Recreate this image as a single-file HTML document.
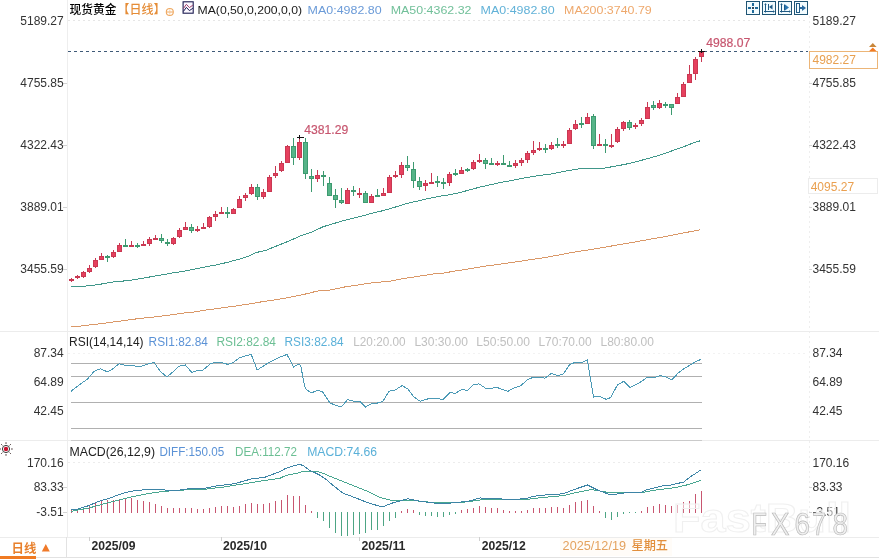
<!DOCTYPE html>
<html><head><meta charset="utf-8"><title>现货黄金 日线</title>
<style>
html,body{margin:0;padding:0;background:#fff;}
body{width:879px;height:559px;overflow:hidden;position:relative;}
svg{position:absolute;left:0;top:0;}
svg text{font-family:"Liberation Sans", "Noto Sans CJK SC", sans-serif;}
</style></head>
<body>
<svg width="879" height="559" viewBox="0 0 879 559">
<rect width="879" height="559" fill="#fff"/>
<rect x="560" y="538" width="112" height="18" fill="#fffcf8"/>
<g shape-rendering="crispEdges">
<rect x="67" y="0" width="1" height="537" fill="#eeeeee"/>
<line x1="809.5" y1="16" x2="809.5" y2="537" stroke="#eeeeee" stroke-dasharray="2,3"/>
<line x1="68" y1="20.5" x2="808" y2="20.5" stroke="#e6e6e6" stroke-dasharray="2,3"/>
<rect x="0" y="331" width="879" height="1" fill="#ececec"/>
<rect x="0" y="440" width="879" height="1" fill="#ececec"/>
<rect x="0" y="537" width="879" height="1" fill="#ececec"/>
<rect x="0" y="557" width="879" height="1" fill="#e2e2e2"/>
<rect x="66" y="537" width="1" height="20" fill="#e2e2e2"/>
<line x1="68" y1="353.5" x2="808" y2="353.5" stroke="#f2f2f2" stroke-dasharray="2,3"/>
<line x1="68" y1="462.5" x2="808" y2="462.5" stroke="#ececec" stroke-dasharray="2,3"/>
<rect x="71" y="363" width="631" height="1" fill="#b0b0b0"/>
<rect x="71" y="376" width="631" height="1" fill="#b0b0b0"/>
<rect x="71" y="402" width="631" height="1" fill="#b0b0b0"/>
<rect x="71" y="428" width="631" height="1" fill="#b0b0b0"/>
<rect x="71" y="440" width="631" height="1" fill="#cacaca"/>
<rect x="63" y="83" width="4" height="1" fill="#d4d4d4"/>
<rect x="809" y="83" width="3" height="1" fill="#d4d4d4"/>
<rect x="63" y="145" width="4" height="1" fill="#d4d4d4"/>
<rect x="809" y="145" width="3" height="1" fill="#d4d4d4"/>
<rect x="63" y="207" width="4" height="1" fill="#d4d4d4"/>
<rect x="809" y="207" width="3" height="1" fill="#d4d4d4"/>
<rect x="63" y="269" width="4" height="1" fill="#d4d4d4"/>
<rect x="809" y="269" width="3" height="1" fill="#d4d4d4"/>
<rect x="63" y="487" width="4" height="1" fill="#d4d4d4"/>
<rect x="809" y="487" width="3" height="1" fill="#d4d4d4"/>
<rect x="63" y="512" width="4" height="1" fill="#d4d4d4"/>
<rect x="809" y="512" width="3" height="1" fill="#d4d4d4"/>
<rect x="89" y="537" width="1" height="4" fill="#cfcfcf"/>
<rect x="221" y="537" width="1" height="4" fill="#cfcfcf"/>
<rect x="359" y="537" width="1" height="4" fill="#cfcfcf"/>
<rect x="479" y="537" width="1" height="4" fill="#cfcfcf"/>
</g>
<line x1="68" y1="51.5" x2="808" y2="51.5" stroke="#3f5a78" stroke-width="1" stroke-dasharray="3,3" shape-rendering="crispEdges"/>
<polyline points="71.2,326.4 80.0,326.1 95.6,324.3 110.4,322.4 125.2,320.4 140.0,318.4 154.8,316.9 169.6,315.0 184.3,313.0 190.0,312.6 204.8,310.2 219.6,308.2 234.4,306.2 249.2,304.0 264.0,301.4 278.8,299.3 293.5,296.6 308.3,293.4 317.0,291.1 329.8,290.0 344.6,287.0 359.4,284.8 374.2,282.5 389.0,281.4 403.8,278.4 418.6,276.3 433.3,274.0 442.0,273.3 454.8,271.1 469.6,268.8 484.4,266.2 499.2,264.3 514.0,262.2 528.8,259.9 543.6,257.8 558.3,255.1 567.0,253.4 581.5,251.0 598.0,248.3 614.5,245.5 631.0,242.7 647.5,239.7 664.0,236.8 680.5,233.5 700.3,229.8" fill="none" stroke="#da9868" stroke-width="1" shape-rendering="crispEdges"/>
<polyline points="71.1,286.5 85.3,286.4 86.5,285.6 97.9,284.8 104.7,283.3 116.0,281.6 127.4,280.7 136.5,279.3 147.9,277.3 157.0,275.7 166.0,274.2 171.4,273.1 182.8,271.4 194.1,269.1 205.5,266.9 216.9,264.8 228.3,262.1 239.6,259.1 248.7,256.0 256.0,252.6 266.4,250.1 277.8,245.5 289.1,241.0 300.5,235.8 311.9,231.9 323.3,226.7 334.6,223.3 346.0,219.9 352.0,218.6 361.4,216.2 372.8,213.0 384.1,210.4 395.5,207.0 406.9,203.4 418.3,200.9 429.6,198.2 441.0,196.0 447.0,195.2 456.4,193.4 467.8,190.4 479.1,187.3 490.5,184.7 501.9,182.2 513.3,180.2 524.6,177.9 536.0,176.0 542.0,175.2 551.4,173.9 562.8,171.6 574.1,169.7 579.8,168.8 600.3,168.8 608.3,167.4 619.6,165.4 630.5,163.2 639.1,160.9 648.2,158.5 657.3,155.9 666.4,152.8 675.5,149.6 684.6,146.4 693.7,142.7 700.5,140.7" fill="none" stroke="#40978a" stroke-width="1" shape-rendering="crispEdges"/>
<g shape-rendering="crispEdges">
<rect x="71" y="278" width="1" height="4" fill="#c93852"/>
<rect x="69" y="279" width="5" height="2" fill="#c93852"/>
<rect x="77" y="275" width="1" height="4" fill="#c93852"/>
<rect x="75" y="276" width="5" height="2" fill="#c93852"/>
<rect x="83" y="271" width="1" height="7" fill="#c93852"/>
<rect x="81" y="272" width="5" height="5" fill="#c93852"/>
<rect x="82" y="273" width="3" height="3" fill="#e6405e"/>
<rect x="89" y="265" width="1" height="8" fill="#c93852"/>
<rect x="87" y="268" width="5" height="4" fill="#c93852"/>
<rect x="88" y="269" width="3" height="2" fill="#e6405e"/>
<rect x="95" y="258" width="1" height="10" fill="#c93852"/>
<rect x="93" y="260" width="5" height="7" fill="#c93852"/>
<rect x="94" y="261" width="3" height="5" fill="#e6405e"/>
<rect x="101" y="253" width="1" height="7" fill="#c93852"/>
<rect x="99" y="256" width="5" height="4" fill="#c93852"/>
<rect x="100" y="257" width="3" height="2" fill="#e6405e"/>
<rect x="107" y="255" width="1" height="7" fill="#3d9a70"/>
<rect x="105" y="256" width="5" height="2" fill="#3d9a70"/>
<rect x="113" y="250" width="1" height="8" fill="#c93852"/>
<rect x="111" y="252" width="5" height="5" fill="#c93852"/>
<rect x="112" y="253" width="3" height="3" fill="#e6405e"/>
<rect x="119" y="243" width="1" height="9" fill="#c93852"/>
<rect x="117" y="245" width="5" height="7" fill="#c93852"/>
<rect x="118" y="246" width="3" height="5" fill="#e6405e"/>
<rect x="125" y="239" width="1" height="7" fill="#3d9a70"/>
<rect x="123" y="245" width="5" height="2" fill="#3d9a70"/>
<rect x="131" y="241" width="1" height="5" fill="#c93852"/>
<rect x="129" y="245" width="5" height="2" fill="#c93852"/>
<rect x="137" y="243" width="1" height="5" fill="#3d9a70"/>
<rect x="135" y="245" width="5" height="2" fill="#3d9a70"/>
<rect x="143" y="241" width="1" height="5" fill="#c93852"/>
<rect x="141" y="244" width="5" height="2" fill="#c93852"/>
<rect x="149" y="237" width="1" height="9" fill="#c93852"/>
<rect x="147" y="239" width="5" height="5" fill="#c93852"/>
<rect x="148" y="240" width="3" height="3" fill="#e6405e"/>
<rect x="155" y="235" width="1" height="4" fill="#c93852"/>
<rect x="153" y="238" width="5" height="2" fill="#c93852"/>
<rect x="161" y="234" width="1" height="9" fill="#3d9a70"/>
<rect x="159" y="238" width="5" height="3" fill="#3d9a70"/>
<rect x="160" y="239" width="3" height="1" fill="#56b488"/>
<rect x="167" y="239" width="1" height="7" fill="#3d9a70"/>
<rect x="165" y="242" width="5" height="2" fill="#3d9a70"/>
<rect x="173" y="237" width="1" height="8" fill="#c93852"/>
<rect x="171" y="238" width="5" height="6" fill="#c93852"/>
<rect x="172" y="239" width="3" height="4" fill="#e6405e"/>
<rect x="179" y="228" width="1" height="10" fill="#c93852"/>
<rect x="177" y="230" width="5" height="7" fill="#c93852"/>
<rect x="178" y="231" width="3" height="5" fill="#e6405e"/>
<rect x="185" y="222" width="1" height="8" fill="#c93852"/>
<rect x="183" y="227" width="5" height="3" fill="#c93852"/>
<rect x="184" y="228" width="3" height="1" fill="#e6405e"/>
<rect x="191" y="224" width="1" height="9" fill="#3d9a70"/>
<rect x="189" y="227" width="5" height="4" fill="#3d9a70"/>
<rect x="190" y="228" width="3" height="2" fill="#56b488"/>
<rect x="197" y="226" width="1" height="6" fill="#c93852"/>
<rect x="195" y="229" width="5" height="2" fill="#c93852"/>
<rect x="203" y="223" width="1" height="6" fill="#c93852"/>
<rect x="201" y="227" width="5" height="2" fill="#c93852"/>
<rect x="209" y="216" width="1" height="12" fill="#c93852"/>
<rect x="207" y="217" width="5" height="10" fill="#c93852"/>
<rect x="208" y="218" width="3" height="8" fill="#e6405e"/>
<rect x="215" y="211" width="1" height="10" fill="#c93852"/>
<rect x="213" y="214" width="5" height="3" fill="#c93852"/>
<rect x="214" y="215" width="3" height="1" fill="#e6405e"/>
<rect x="221" y="207" width="1" height="6" fill="#c93852"/>
<rect x="219" y="212" width="5" height="2" fill="#c93852"/>
<rect x="227" y="207" width="1" height="11" fill="#3d9a70"/>
<rect x="225" y="212" width="5" height="2" fill="#3d9a70"/>
<rect x="233" y="208" width="1" height="6" fill="#c93852"/>
<rect x="231" y="209" width="5" height="5" fill="#c93852"/>
<rect x="232" y="210" width="3" height="3" fill="#e6405e"/>
<rect x="239" y="196" width="1" height="12" fill="#c93852"/>
<rect x="237" y="199" width="5" height="9" fill="#c93852"/>
<rect x="238" y="200" width="3" height="7" fill="#e6405e"/>
<rect x="245" y="193" width="1" height="8" fill="#c93852"/>
<rect x="243" y="195" width="5" height="3" fill="#c93852"/>
<rect x="244" y="196" width="3" height="1" fill="#e6405e"/>
<rect x="251" y="184" width="1" height="11" fill="#c93852"/>
<rect x="249" y="187" width="5" height="7" fill="#c93852"/>
<rect x="250" y="188" width="3" height="5" fill="#e6405e"/>
<rect x="257" y="184" width="1" height="16" fill="#3d9a70"/>
<rect x="255" y="187" width="5" height="10" fill="#3d9a70"/>
<rect x="256" y="188" width="3" height="8" fill="#56b488"/>
<rect x="263" y="189" width="1" height="10" fill="#c93852"/>
<rect x="261" y="192" width="5" height="5" fill="#c93852"/>
<rect x="262" y="193" width="3" height="3" fill="#e6405e"/>
<rect x="269" y="175" width="1" height="17" fill="#c93852"/>
<rect x="267" y="177" width="5" height="15" fill="#c93852"/>
<rect x="268" y="178" width="3" height="13" fill="#e6405e"/>
<rect x="275" y="166" width="1" height="12" fill="#c93852"/>
<rect x="273" y="173" width="5" height="3" fill="#c93852"/>
<rect x="274" y="174" width="3" height="1" fill="#e6405e"/>
<rect x="281" y="161" width="1" height="11" fill="#c93852"/>
<rect x="279" y="163" width="5" height="8" fill="#c93852"/>
<rect x="280" y="164" width="3" height="6" fill="#e6405e"/>
<rect x="287" y="145" width="1" height="18" fill="#c93852"/>
<rect x="285" y="146" width="5" height="17" fill="#c93852"/>
<rect x="286" y="147" width="3" height="15" fill="#e6405e"/>
<rect x="293" y="138" width="1" height="27" fill="#3d9a70"/>
<rect x="291" y="146" width="5" height="12" fill="#3d9a70"/>
<rect x="292" y="147" width="3" height="10" fill="#56b488"/>
<rect x="299" y="136" width="1" height="24" fill="#c93852"/>
<rect x="297" y="142" width="5" height="16" fill="#c93852"/>
<rect x="298" y="143" width="3" height="14" fill="#e6405e"/>
<rect x="305" y="138" width="1" height="41" fill="#3d9a70"/>
<rect x="303" y="142" width="5" height="32" fill="#3d9a70"/>
<rect x="304" y="143" width="3" height="30" fill="#56b488"/>
<rect x="311" y="169" width="1" height="23" fill="#3d9a70"/>
<rect x="309" y="176" width="5" height="3" fill="#3d9a70"/>
<rect x="310" y="177" width="3" height="1" fill="#56b488"/>
<rect x="317" y="170" width="1" height="12" fill="#c93852"/>
<rect x="315" y="175" width="5" height="4" fill="#c93852"/>
<rect x="316" y="176" width="3" height="2" fill="#e6405e"/>
<rect x="323" y="171" width="1" height="15" fill="#3d9a70"/>
<rect x="321" y="175" width="5" height="2" fill="#3d9a70"/>
<rect x="329" y="177" width="1" height="19" fill="#3d9a70"/>
<rect x="327" y="183" width="5" height="13" fill="#3d9a70"/>
<rect x="328" y="184" width="3" height="11" fill="#56b488"/>
<rect x="335" y="189" width="1" height="19" fill="#3d9a70"/>
<rect x="333" y="195" width="5" height="5" fill="#3d9a70"/>
<rect x="334" y="196" width="3" height="3" fill="#56b488"/>
<rect x="341" y="188" width="1" height="16" fill="#3d9a70"/>
<rect x="339" y="200" width="5" height="3" fill="#3d9a70"/>
<rect x="340" y="201" width="3" height="1" fill="#56b488"/>
<rect x="347" y="188" width="1" height="16" fill="#c93852"/>
<rect x="345" y="190" width="5" height="14" fill="#c93852"/>
<rect x="346" y="191" width="3" height="12" fill="#e6405e"/>
<rect x="353" y="186" width="1" height="10" fill="#3d9a70"/>
<rect x="351" y="190" width="5" height="2" fill="#3d9a70"/>
<rect x="359" y="188" width="1" height="10" fill="#c93852"/>
<rect x="357" y="193" width="5" height="2" fill="#c93852"/>
<rect x="365" y="191" width="1" height="12" fill="#3d9a70"/>
<rect x="363" y="193" width="5" height="10" fill="#3d9a70"/>
<rect x="364" y="194" width="3" height="8" fill="#56b488"/>
<rect x="371" y="194" width="1" height="9" fill="#c93852"/>
<rect x="369" y="196" width="5" height="7" fill="#c93852"/>
<rect x="370" y="197" width="3" height="5" fill="#e6405e"/>
<rect x="377" y="189" width="1" height="7" fill="#3d9a70"/>
<rect x="375" y="195" width="5" height="2" fill="#3d9a70"/>
<rect x="383" y="188" width="1" height="8" fill="#c93852"/>
<rect x="381" y="193" width="5" height="3" fill="#c93852"/>
<rect x="382" y="194" width="3" height="1" fill="#e6405e"/>
<rect x="389" y="175" width="1" height="18" fill="#c93852"/>
<rect x="387" y="177" width="5" height="16" fill="#c93852"/>
<rect x="388" y="178" width="3" height="14" fill="#e6405e"/>
<rect x="395" y="171" width="1" height="7" fill="#c93852"/>
<rect x="393" y="175" width="5" height="2" fill="#c93852"/>
<rect x="401" y="162" width="1" height="16" fill="#c93852"/>
<rect x="399" y="165" width="5" height="10" fill="#c93852"/>
<rect x="400" y="166" width="3" height="8" fill="#e6405e"/>
<rect x="407" y="156" width="1" height="15" fill="#3d9a70"/>
<rect x="405" y="165" width="5" height="3" fill="#3d9a70"/>
<rect x="406" y="166" width="3" height="1" fill="#56b488"/>
<rect x="413" y="162" width="1" height="26" fill="#3d9a70"/>
<rect x="411" y="169" width="5" height="12" fill="#3d9a70"/>
<rect x="412" y="170" width="3" height="10" fill="#56b488"/>
<rect x="419" y="177" width="1" height="13" fill="#3d9a70"/>
<rect x="417" y="181" width="5" height="6" fill="#3d9a70"/>
<rect x="418" y="182" width="3" height="4" fill="#56b488"/>
<rect x="425" y="180" width="1" height="11" fill="#c93852"/>
<rect x="423" y="183" width="5" height="3" fill="#c93852"/>
<rect x="424" y="184" width="3" height="1" fill="#e6405e"/>
<rect x="431" y="173" width="1" height="11" fill="#c93852"/>
<rect x="429" y="182" width="5" height="2" fill="#c93852"/>
<rect x="437" y="176" width="1" height="11" fill="#3d9a70"/>
<rect x="435" y="181" width="5" height="2" fill="#3d9a70"/>
<rect x="443" y="178" width="1" height="11" fill="#3d9a70"/>
<rect x="441" y="182" width="5" height="2" fill="#3d9a70"/>
<rect x="449" y="172" width="1" height="14" fill="#c93852"/>
<rect x="447" y="174" width="5" height="9" fill="#c93852"/>
<rect x="448" y="175" width="3" height="7" fill="#e6405e"/>
<rect x="455" y="169" width="1" height="7" fill="#3d9a70"/>
<rect x="453" y="173" width="5" height="2" fill="#3d9a70"/>
<rect x="461" y="167" width="1" height="7" fill="#c93852"/>
<rect x="459" y="170" width="5" height="4" fill="#c93852"/>
<rect x="460" y="171" width="3" height="2" fill="#e6405e"/>
<rect x="467" y="168" width="1" height="4" fill="#3d9a70"/>
<rect x="465" y="169" width="5" height="2" fill="#3d9a70"/>
<rect x="473" y="160" width="1" height="10" fill="#c93852"/>
<rect x="471" y="162" width="5" height="7" fill="#c93852"/>
<rect x="472" y="163" width="3" height="5" fill="#e6405e"/>
<rect x="479" y="154" width="1" height="9" fill="#c93852"/>
<rect x="477" y="160" width="5" height="2" fill="#c93852"/>
<rect x="485" y="158" width="1" height="11" fill="#3d9a70"/>
<rect x="483" y="160" width="5" height="4" fill="#3d9a70"/>
<rect x="484" y="161" width="3" height="2" fill="#56b488"/>
<rect x="491" y="158" width="1" height="6" fill="#3d9a70"/>
<rect x="489" y="163" width="5" height="2" fill="#3d9a70"/>
<rect x="497" y="161" width="1" height="5" fill="#c93852"/>
<rect x="495" y="163" width="5" height="2" fill="#c93852"/>
<rect x="503" y="155" width="1" height="9" fill="#3d9a70"/>
<rect x="501" y="163" width="5" height="2" fill="#3d9a70"/>
<rect x="509" y="161" width="1" height="6" fill="#3d9a70"/>
<rect x="507" y="165" width="5" height="2" fill="#3d9a70"/>
<rect x="515" y="160" width="1" height="8" fill="#c93852"/>
<rect x="513" y="163" width="5" height="3" fill="#c93852"/>
<rect x="514" y="164" width="3" height="1" fill="#e6405e"/>
<rect x="521" y="158" width="1" height="8" fill="#c93852"/>
<rect x="519" y="160" width="5" height="3" fill="#c93852"/>
<rect x="520" y="161" width="3" height="1" fill="#e6405e"/>
<rect x="527" y="151" width="1" height="12" fill="#c93852"/>
<rect x="525" y="153" width="5" height="7" fill="#c93852"/>
<rect x="526" y="154" width="3" height="5" fill="#e6405e"/>
<rect x="533" y="141" width="1" height="14" fill="#c93852"/>
<rect x="531" y="150" width="5" height="3" fill="#c93852"/>
<rect x="532" y="151" width="3" height="1" fill="#e6405e"/>
<rect x="539" y="142" width="1" height="9" fill="#c93852"/>
<rect x="537" y="148" width="5" height="2" fill="#c93852"/>
<rect x="545" y="144" width="1" height="9" fill="#3d9a70"/>
<rect x="543" y="148" width="5" height="2" fill="#3d9a70"/>
<rect x="551" y="142" width="1" height="8" fill="#c93852"/>
<rect x="549" y="145" width="5" height="4" fill="#c93852"/>
<rect x="550" y="146" width="3" height="2" fill="#e6405e"/>
<rect x="557" y="138" width="1" height="10" fill="#3d9a70"/>
<rect x="555" y="144" width="5" height="2" fill="#3d9a70"/>
<rect x="563" y="141" width="1" height="7" fill="#c93852"/>
<rect x="561" y="144" width="5" height="2" fill="#c93852"/>
<rect x="569" y="128" width="1" height="16" fill="#c93852"/>
<rect x="567" y="130" width="5" height="14" fill="#c93852"/>
<rect x="568" y="131" width="3" height="12" fill="#e6405e"/>
<rect x="575" y="120" width="1" height="10" fill="#c93852"/>
<rect x="573" y="124" width="5" height="5" fill="#c93852"/>
<rect x="574" y="125" width="3" height="3" fill="#e6405e"/>
<rect x="581" y="117" width="1" height="11" fill="#3d9a70"/>
<rect x="579" y="123" width="5" height="2" fill="#3d9a70"/>
<rect x="587" y="113" width="1" height="11" fill="#c93852"/>
<rect x="585" y="117" width="5" height="7" fill="#c93852"/>
<rect x="586" y="118" width="3" height="5" fill="#e6405e"/>
<rect x="593" y="114" width="1" height="35" fill="#3d9a70"/>
<rect x="591" y="116" width="5" height="30" fill="#3d9a70"/>
<rect x="592" y="117" width="3" height="28" fill="#56b488"/>
<rect x="599" y="134" width="1" height="12" fill="#c93852"/>
<rect x="597" y="144" width="5" height="2" fill="#c93852"/>
<rect x="605" y="139" width="1" height="14" fill="#3d9a70"/>
<rect x="603" y="144" width="5" height="2" fill="#3d9a70"/>
<rect x="611" y="134" width="1" height="14" fill="#c93852"/>
<rect x="609" y="145" width="5" height="2" fill="#c93852"/>
<rect x="617" y="127" width="1" height="16" fill="#c93852"/>
<rect x="615" y="129" width="5" height="13" fill="#c93852"/>
<rect x="616" y="130" width="3" height="11" fill="#e6405e"/>
<rect x="623" y="121" width="1" height="10" fill="#c93852"/>
<rect x="621" y="122" width="5" height="7" fill="#c93852"/>
<rect x="622" y="123" width="3" height="5" fill="#e6405e"/>
<rect x="629" y="120" width="1" height="10" fill="#3d9a70"/>
<rect x="627" y="122" width="5" height="6" fill="#3d9a70"/>
<rect x="628" y="123" width="3" height="4" fill="#56b488"/>
<rect x="635" y="123" width="1" height="6" fill="#c93852"/>
<rect x="633" y="125" width="5" height="2" fill="#c93852"/>
<rect x="641" y="118" width="1" height="8" fill="#c93852"/>
<rect x="639" y="120" width="5" height="4" fill="#c93852"/>
<rect x="640" y="121" width="3" height="2" fill="#e6405e"/>
<rect x="647" y="102" width="1" height="17" fill="#c93852"/>
<rect x="645" y="107" width="5" height="12" fill="#c93852"/>
<rect x="646" y="108" width="3" height="10" fill="#e6405e"/>
<rect x="653" y="101" width="1" height="9" fill="#3d9a70"/>
<rect x="651" y="105" width="5" height="3" fill="#3d9a70"/>
<rect x="652" y="106" width="3" height="1" fill="#56b488"/>
<rect x="659" y="100" width="1" height="9" fill="#c93852"/>
<rect x="657" y="103" width="5" height="5" fill="#c93852"/>
<rect x="658" y="104" width="3" height="3" fill="#e6405e"/>
<rect x="665" y="102" width="1" height="6" fill="#3d9a70"/>
<rect x="663" y="104" width="5" height="2" fill="#3d9a70"/>
<rect x="671" y="104" width="1" height="11" fill="#3d9a70"/>
<rect x="669" y="104" width="5" height="4" fill="#3d9a70"/>
<rect x="670" y="105" width="3" height="2" fill="#56b488"/>
<rect x="677" y="93" width="1" height="11" fill="#c93852"/>
<rect x="675" y="97" width="5" height="7" fill="#c93852"/>
<rect x="676" y="98" width="3" height="5" fill="#e6405e"/>
<rect x="683" y="82" width="1" height="15" fill="#c93852"/>
<rect x="681" y="84" width="5" height="13" fill="#c93852"/>
<rect x="682" y="85" width="3" height="11" fill="#e6405e"/>
<rect x="689" y="65" width="1" height="18" fill="#c93852"/>
<rect x="687" y="74" width="5" height="9" fill="#c93852"/>
<rect x="688" y="75" width="3" height="7" fill="#e6405e"/>
<rect x="695" y="57" width="1" height="23" fill="#c93852"/>
<rect x="693" y="59" width="5" height="15" fill="#c93852"/>
<rect x="694" y="60" width="3" height="13" fill="#e6405e"/>
<rect x="701" y="50" width="1" height="12" fill="#c93852"/>
<rect x="699" y="52" width="5" height="5" fill="#c93852"/>
<rect x="700" y="53" width="3" height="3" fill="#e6405e"/>
</g>
<g stroke="#111" stroke-width="1" shape-rendering="crispEdges"><line x1="297" y1="137.5" x2="304" y2="137.5"/><line x1="299.5" y1="135" x2="299.5" y2="139"/><line x1="698" y1="51.5" x2="705" y2="51.5"/><line x1="701.5" y1="49" x2="701.5" y2="53"/></g>
<polyline points="71.0,391.3 79.0,385.0 87.8,378.8 94.0,371.3 100.3,368.8 107.8,372.0 112.8,368.8 119.0,363.8 124.0,365.0 129.0,365.5 132.8,365.0 137.8,367.0 144.0,365.5 149.0,363.8 154.0,362.5 160.3,371.3 167.0,377.0 172.8,372.0 179.0,366.3 185.4,365.0 191.7,372.5 198.0,370.5 203.0,370.0 210.4,363.8 215.4,362.5 221.7,362.5 228.0,364.5 233.0,362.5 239.2,358.0 244.2,356.3 251.2,354.3 257.2,370.0 266.8,363.8 274.3,360.0 280.0,357.0 287.0,354.5 293.6,367.0 299.0,363.9 300.7,365.7 304.8,386.7 306.1,389.4 311.5,392.8 316.8,390.7 322.2,391.3 330.0,403.0 335.0,405.0 341.3,407.0 347.6,399.6 353.8,401.3 359.6,401.3 365.6,407.0 372.6,403.0 377.6,403.0 383.0,401.3 388.9,391.3 395.1,390.0 402.2,385.6 407.7,388.8 414.0,397.0 420.2,401.3 425.2,399.6 430.2,398.3 436.4,398.3 442.7,399.6 449.7,392.6 455.2,393.3 462.2,389.3 467.2,390.6 473.2,385.0 479.0,383.8 485.8,388.3 492.8,388.0 496.0,387.0 502.3,389.6 508.0,391.3 514.0,388.0 520.5,385.8 527.3,380.0 533.5,377.0 539.8,377.0 544.8,378.3 551.6,373.3 557.3,375.5 563.0,374.3 569.8,364.5 574.8,362.5 581.1,363.0 587.4,360.0 593.6,397.0 599.1,396.3 606.1,399.3 610.6,397.6 617.4,385.0 623.7,381.3 629.9,387.6 636.2,384.6 641.7,381.3 647.4,377.0 653.2,378.0 660.0,375.5 666.2,377.0 671.7,380.0 678.7,372.5 685.0,368.0 691.2,364.5 696.3,361.3 700.8,359.5" fill="none" stroke="#4c9ab6" stroke-width="1" shape-rendering="crispEdges"/>
<g shape-rendering="crispEdges">
<rect x="71" y="510" width="1" height="3" fill="#c85670"/>
<rect x="77" y="509" width="1" height="4" fill="#c85670"/>
<rect x="83" y="507" width="1" height="6" fill="#c85670"/>
<rect x="89" y="506" width="1" height="7" fill="#c85670"/>
<rect x="95" y="503" width="1" height="10" fill="#c85670"/>
<rect x="101" y="501" width="1" height="12" fill="#c85670"/>
<rect x="107" y="500" width="1" height="13" fill="#c85670"/>
<rect x="113" y="500" width="1" height="13" fill="#c85670"/>
<rect x="119" y="499" width="1" height="14" fill="#c85670"/>
<rect x="125" y="498" width="1" height="15" fill="#c85670"/>
<rect x="131" y="498" width="1" height="15" fill="#c85670"/>
<rect x="137" y="500" width="1" height="13" fill="#c85670"/>
<rect x="143" y="501" width="1" height="12" fill="#c85670"/>
<rect x="149" y="502" width="1" height="11" fill="#c85670"/>
<rect x="155" y="504" width="1" height="9" fill="#c85670"/>
<rect x="161" y="506" width="1" height="7" fill="#c85670"/>
<rect x="167" y="508" width="1" height="5" fill="#c85670"/>
<rect x="173" y="508" width="1" height="5" fill="#c85670"/>
<rect x="179" y="508" width="1" height="5" fill="#c85670"/>
<rect x="185" y="508" width="1" height="5" fill="#c85670"/>
<rect x="191" y="508" width="1" height="5" fill="#c85670"/>
<rect x="197" y="509" width="1" height="4" fill="#c85670"/>
<rect x="203" y="509" width="1" height="4" fill="#c85670"/>
<rect x="209" y="508" width="1" height="5" fill="#c85670"/>
<rect x="215" y="507" width="1" height="6" fill="#c85670"/>
<rect x="221" y="506" width="1" height="7" fill="#c85670"/>
<rect x="227" y="506" width="1" height="7" fill="#c85670"/>
<rect x="233" y="507" width="1" height="6" fill="#c85670"/>
<rect x="239" y="506" width="1" height="7" fill="#c85670"/>
<rect x="245" y="504" width="1" height="9" fill="#c85670"/>
<rect x="251" y="503" width="1" height="10" fill="#c85670"/>
<rect x="257" y="504" width="1" height="9" fill="#c85670"/>
<rect x="263" y="504" width="1" height="9" fill="#c85670"/>
<rect x="269" y="503" width="1" height="10" fill="#c85670"/>
<rect x="275" y="501" width="1" height="12" fill="#c85670"/>
<rect x="281" y="500" width="1" height="13" fill="#c85670"/>
<rect x="287" y="495" width="1" height="18" fill="#c85670"/>
<rect x="293" y="496" width="1" height="17" fill="#c85670"/>
<rect x="299" y="496" width="1" height="17" fill="#c85670"/>
<rect x="305" y="505" width="1" height="8" fill="#c85670"/>
<rect x="311" y="511" width="1" height="2" fill="#c85670"/>
<rect x="317" y="512" width="1" height="6" fill="#4da584"/>
<rect x="323" y="512" width="1" height="9" fill="#4da584"/>
<rect x="329" y="512" width="1" height="16" fill="#4da584"/>
<rect x="335" y="512" width="1" height="21" fill="#4da584"/>
<rect x="341" y="512" width="1" height="24" fill="#4da584"/>
<rect x="347" y="512" width="1" height="24" fill="#4da584"/>
<rect x="353" y="512" width="1" height="23" fill="#4da584"/>
<rect x="359" y="512" width="1" height="22" fill="#4da584"/>
<rect x="365" y="512" width="1" height="21" fill="#4da584"/>
<rect x="371" y="512" width="1" height="18" fill="#4da584"/>
<rect x="377" y="512" width="1" height="18" fill="#4da584"/>
<rect x="383" y="512" width="1" height="14" fill="#4da584"/>
<rect x="389" y="512" width="1" height="9" fill="#4da584"/>
<rect x="395" y="512" width="1" height="6" fill="#4da584"/>
<rect x="401" y="511" width="1" height="2" fill="#c85670"/>
<rect x="407" y="509" width="1" height="4" fill="#c85670"/>
<rect x="413" y="510" width="1" height="3" fill="#c85670"/>
<rect x="419" y="512" width="1" height="3" fill="#4da584"/>
<rect x="425" y="512" width="1" height="4" fill="#4da584"/>
<rect x="431" y="512" width="1" height="4" fill="#4da584"/>
<rect x="437" y="512" width="1" height="5" fill="#4da584"/>
<rect x="443" y="512" width="1" height="5" fill="#4da584"/>
<rect x="449" y="512" width="1" height="3" fill="#4da584"/>
<rect x="455" y="512" width="1" height="2" fill="#4da584"/>
<rect x="461" y="510" width="1" height="3" fill="#c85670"/>
<rect x="467" y="509" width="1" height="4" fill="#c85670"/>
<rect x="473" y="508" width="1" height="5" fill="#c85670"/>
<rect x="479" y="506" width="1" height="7" fill="#c85670"/>
<rect x="485" y="507" width="1" height="6" fill="#c85670"/>
<rect x="491" y="508" width="1" height="5" fill="#c85670"/>
<rect x="497" y="508" width="1" height="5" fill="#c85670"/>
<rect x="503" y="510" width="1" height="3" fill="#c85670"/>
<rect x="509" y="511" width="1" height="2" fill="#c85670"/>
<rect x="515" y="511" width="1" height="2" fill="#c85670"/>
<rect x="521" y="511" width="1" height="2" fill="#c85670"/>
<rect x="527" y="510" width="1" height="3" fill="#c85670"/>
<rect x="533" y="508" width="1" height="5" fill="#c85670"/>
<rect x="539" y="508" width="1" height="5" fill="#c85670"/>
<rect x="545" y="508" width="1" height="5" fill="#c85670"/>
<rect x="551" y="507" width="1" height="6" fill="#c85670"/>
<rect x="557" y="507" width="1" height="6" fill="#c85670"/>
<rect x="563" y="508" width="1" height="5" fill="#c85670"/>
<rect x="569" y="505" width="1" height="8" fill="#c85670"/>
<rect x="575" y="502" width="1" height="11" fill="#c85670"/>
<rect x="581" y="501" width="1" height="12" fill="#c85670"/>
<rect x="587" y="500" width="1" height="13" fill="#c85670"/>
<rect x="593" y="506" width="1" height="7" fill="#c85670"/>
<rect x="599" y="511" width="1" height="2" fill="#c85670"/>
<rect x="605" y="512" width="1" height="6" fill="#4da584"/>
<rect x="611" y="512" width="1" height="8" fill="#4da584"/>
<rect x="617" y="512" width="1" height="5" fill="#4da584"/>
<rect x="623" y="512" width="1" height="2" fill="#4da584"/>
<rect x="629" y="512" width="1" height="1" fill="#4da584"/>
<rect x="635" y="512" width="1" height="1" fill="#4da584"/>
<rect x="641" y="511" width="1" height="2" fill="#c85670"/>
<rect x="647" y="507" width="1" height="6" fill="#c85670"/>
<rect x="653" y="506" width="1" height="7" fill="#c85670"/>
<rect x="659" y="504" width="1" height="9" fill="#c85670"/>
<rect x="665" y="505" width="1" height="8" fill="#c85670"/>
<rect x="671" y="506" width="1" height="7" fill="#c85670"/>
<rect x="677" y="505" width="1" height="8" fill="#c85670"/>
<rect x="683" y="502" width="1" height="11" fill="#c85670"/>
<rect x="689" y="501" width="1" height="12" fill="#c85670"/>
<rect x="695" y="494" width="1" height="19" fill="#c85670"/>
<rect x="701" y="491" width="1" height="22" fill="#c85670"/>
</g>
<polyline points="71.0,511.3 89.0,508.0 101.5,504.5 114.0,501.3 129.0,497.5 146.6,493.8 164.0,491.3 184.0,490.0 204.0,489.3 224.0,487.0 244.0,483.8 264.3,480.5 280.0,478.3 285.7,475.5 291.4,474.3 297.0,473.2 302.8,471.5 308.4,471.4 314.1,471.5 318.7,471.8 324.4,473.8 330.0,476.3 342.6,481.3 355.0,486.3 367.6,491.3 380.0,497.6 390.0,500.0 400.0,500.6 410.0,500.0 420.2,501.3 435.2,502.6 450.2,503.0 465.2,502.0 480.3,500.0 496.0,499.6 526.0,499.6 541.0,497.6 563.6,495.6 576.0,492.6 591.1,489.5 606.1,492.0 616.1,493.0 641.2,492.6 656.2,490.0 676.2,487.5 688.7,484.5 700.8,480.5" fill="none" stroke="#48a690" stroke-width="1" shape-rendering="crispEdges"/>
<polyline points="71.0,510.0 79.0,508.8 89.0,505.5 99.0,501.3 110.3,498.0 119.0,494.5 130.3,491.3 146.6,489.5 159.0,489.5 174.0,490.8 189.0,488.8 201.7,488.8 216.7,485.8 234.2,483.8 251.7,478.8 264.3,477.5 280.0,471.5 285.7,468.4 291.4,466.4 299.6,464.2 304.5,466.4 309.6,470.5 314.1,472.3 319.8,475.2 325.5,478.9 332.6,485.0 342.6,493.0 355.0,497.6 367.6,502.6 382.0,507.0 392.6,503.0 407.7,498.8 420.2,501.3 430.2,502.6 442.7,503.8 455.2,502.6 467.7,501.3 480.3,498.0 496.0,498.8 511.0,499.3 526.0,498.8 533.5,496.3 548.6,494.6 563.6,493.8 571.0,490.6 587.4,485.0 598.6,490.6 611.1,495.0 623.7,493.0 641.2,492.6 646.2,490.0 663.7,485.5 671.2,485.0 683.7,482.0 691.2,476.3 700.8,470.0" fill="none" stroke="#3d84a6" stroke-width="1" shape-rendering="crispEdges"/>

<g shape-rendering="crispEdges">
<rect x="746.5" y="1.5" width="13" height="13" fill="#f2fbfe" stroke="#1f5474"/>
<rect x="762.5" y="1.5" width="13" height="13" fill="#f2fbfe" stroke="#1f5474"/>
<rect x="778.5" y="1.5" width="13" height="13" fill="#f2fbfe" stroke="#1f5474"/>
<rect x="794.5" y="1.5" width="13" height="13" fill="#f2fbfe" stroke="#1f5474"/>
<g fill="#1f6a9a">
<rect x="752" y="3" width="2" height="3"/><rect x="752" y="10" width="2" height="3"/>
<rect x="748" y="7" width="3" height="2"/><rect x="755" y="7" width="3" height="2"/>
<rect x="752" y="7" width="2" height="2" fill="#345"/>
</g>
</g>
<g fill="none" stroke="#1f5a84" stroke-width="1">
<path d="M765.5 4 V12.5 M764 11.5 H774 M768.5 4 V10"/>
<path d="M781.5 4 V12.5 M780 11.5 H790 M784.5 4.5 V10.5"/>
<path d="M796.5 3.5 H799.5 V12.5 H796.5 Z" shape-rendering="crispEdges"/>
</g>
<g fill="#1f5a84">
<path d="M764.3 5 L765.5 3 L766.7 5 Z"/><path d="M773 10.3 L775 11.5 L773 12.7 Z"/>
<path d="M772.5 4.5 V9.5 L769 7 Z"/>
<path d="M780.3 5 L781.5 3 L782.7 5 Z"/><path d="M789 10.3 L791 11.5 L789 12.7 Z"/>
<path d="M785 4.5 L789 7.5 L785 10.5 Z" fill="#2a76b0"/>
<rect x="800" y="7" width="3" height="2" fill="#2a6aa0"/>
<path d="M802 5 L806 8 L802 11 Z" fill="#2a6aa0"/>
</g>


<circle cx="169.8" cy="12" r="3.5" fill="none" stroke="#efa860" stroke-width="1.1"/>
<line x1="166.3" y1="12" x2="173.3" y2="12" stroke="#efa860" stroke-width="1"/>
<line x1="169.8" y1="9.3" x2="169.8" y2="14.8" stroke="#f3c898" stroke-width="0.8"/>
<rect x="183.1" y="1.8" width="10.1" height="11.4" fill="#fbf8ff" stroke="#1b1b50" stroke-width="1.1"/>
<polyline points="183.4,8.6 186.4,4.3 189.4,7.6 192.8,5.2" fill="none" stroke="#a0406a" stroke-width="1"/>
<polyline points="183.4,11.4 186.4,7.4 189.4,10.6 192.8,8.3" fill="none" stroke="#1b1b50" stroke-width="1"/>


<g transform="translate(6,449)">
<circle r="3.6" fill="#fff" stroke="#3a3a3a" stroke-width="1"/>
<circle r="2.2" fill="#c8102e"/>
<g stroke="#5a4a4a" stroke-width="1">
<line x1="0" y1="-5" x2="0" y2="-6.8"/><line x1="0" y1="5" x2="0" y2="6.8"/>
<line x1="-5" y1="0" x2="-6.8" y2="0"/><line x1="5" y1="0" x2="6.8" y2="0"/>
<line x1="3.6" y1="3.6" x2="4.9" y2="4.9"/><line x1="-3.6" y1="3.6" x2="-4.9" y2="4.9"/>
<line x1="3.6" y1="-3.6" x2="4.9" y2="-4.9"/><line x1="-3.6" y1="-3.6" x2="-4.9" y2="-4.9"/>
</g></g>


<rect x="809.5" y="51.5" width="68" height="17" fill="#fff" stroke="#ecb577" stroke-width="1" shape-rendering="crispEdges"/>
<path d="M869 47 L872.8 43 L876.6 47 Z" fill="#c8863a"/>
<path d="M869 51.3 L872.8 47.6 L876.6 51.3 Z" fill="#f37a22"/>
<rect x="808.5" y="178.5" width="69" height="15" fill="#fff" stroke="#ececec" stroke-width="1" shape-rendering="crispEdges"/>

<text x="69.5" y="14.2" fill="#000" font-size="12" font-weight="500" text-anchor="start" textLength="47" lengthAdjust="spacingAndGlyphs">现货黄金</text>
<text x="117.5" y="14.2" fill="#e58c36" font-size="12" font-weight="500" text-anchor="start" textLength="48" lengthAdjust="spacingAndGlyphs">【日线】</text>
<text x="197.5" y="13.8" fill="#1a1a1a" font-size="11.6" font-weight="normal" text-anchor="start" textLength="104.5" lengthAdjust="spacingAndGlyphs">MA(0,50,0,200,0,0)</text>
<text x="307.6" y="13.8" fill="#6b9bd8" font-size="11.6" font-weight="normal" text-anchor="start" textLength="74" lengthAdjust="spacingAndGlyphs">MA0:4982.80</text>
<text x="390.7" y="13.8" fill="#72c09a" font-size="11.6" font-weight="normal" text-anchor="start" textLength="80.8" lengthAdjust="spacingAndGlyphs">MA50:4362.32</text>
<text x="480.6" y="13.8" fill="#62b2d8" font-size="11.6" font-weight="normal" text-anchor="start" textLength="74" lengthAdjust="spacingAndGlyphs">MA0:4982.80</text>
<text x="564.1" y="13.8" fill="#eea86c" font-size="11.6" font-weight="normal" text-anchor="start" textLength="87.6" lengthAdjust="spacingAndGlyphs">MA200:3740.79</text>
<text x="63.7" y="24.8" fill="#333" font-size="12" font-weight="normal" text-anchor="end">5189.27</text>
<text x="63.7" y="86.8" fill="#333" font-size="12" font-weight="normal" text-anchor="end">4755.85</text>
<text x="63.7" y="148.7" fill="#333" font-size="12" font-weight="normal" text-anchor="end">4322.43</text>
<text x="63.7" y="210.8" fill="#333" font-size="12" font-weight="normal" text-anchor="end">3889.01</text>
<text x="63.7" y="272.6" fill="#333" font-size="12" font-weight="normal" text-anchor="end">3455.59</text>
<text x="63.7" y="356.5" fill="#333" font-size="12" font-weight="normal" text-anchor="end">87.34</text>
<text x="63.7" y="385.5" fill="#333" font-size="12" font-weight="normal" text-anchor="end">64.89</text>
<text x="63.7" y="414.5" fill="#333" font-size="12" font-weight="normal" text-anchor="end">42.45</text>
<text x="63.7" y="467" fill="#333" font-size="12" font-weight="normal" text-anchor="end">170.16</text>
<text x="63.7" y="490.5" fill="#333" font-size="12" font-weight="normal" text-anchor="end">83.33</text>
<text x="63.7" y="515.5" fill="#333" font-size="12" font-weight="normal" text-anchor="end">-3.51</text>
<text x="812.5" y="24.8" fill="#333" font-size="12" font-weight="normal" text-anchor="start">5189.27</text>
<text x="812.5" y="86.8" fill="#333" font-size="12" font-weight="normal" text-anchor="start">4755.85</text>
<text x="812.5" y="148.7" fill="#333" font-size="12" font-weight="normal" text-anchor="start">4322.43</text>
<text x="812.5" y="210.8" fill="#333" font-size="12" font-weight="normal" text-anchor="start">3889.01</text>
<text x="812.5" y="272.6" fill="#333" font-size="12" font-weight="normal" text-anchor="start">3455.59</text>
<text x="812.5" y="356.5" fill="#333" font-size="12" font-weight="normal" text-anchor="start">87.34</text>
<text x="812.5" y="385.5" fill="#333" font-size="12" font-weight="normal" text-anchor="start">64.89</text>
<text x="812.5" y="414.5" fill="#333" font-size="12" font-weight="normal" text-anchor="start">42.45</text>
<text x="812.5" y="467" fill="#333" font-size="12" font-weight="normal" text-anchor="start">170.16</text>
<text x="812.5" y="490.5" fill="#333" font-size="12" font-weight="normal" text-anchor="start">83.33</text>
<text x="812.5" y="515.5" fill="#333" font-size="12" font-weight="normal" text-anchor="start">-3.51</text>
<text x="812.5" y="64.3" fill="#e8a050" font-size="12" font-weight="normal" text-anchor="start">4982.27</text>
<text x="810.7" y="190.5" fill="#eaa050" font-size="12" font-weight="normal" text-anchor="start">4095.27</text>
<text x="304.2" y="134" fill="#c7566f" font-size="12" font-weight="normal" text-anchor="start" textLength="44" lengthAdjust="spacingAndGlyphs" stroke="#c7566f" stroke-width="0.2">4381.29</text>
<text x="706.3" y="47" fill="#c7566f" font-size="12" font-weight="normal" text-anchor="start" textLength="44" lengthAdjust="spacingAndGlyphs" stroke="#c7566f" stroke-width="0.2">4988.07</text>
<text x="69" y="346" fill="#222" font-size="12" font-weight="normal" text-anchor="start" textLength="74.6" lengthAdjust="spacingAndGlyphs">RSI(14,14,14)</text>
<text x="148.6" y="346" fill="#5b92d6" font-size="12" font-weight="normal" text-anchor="start" textLength="59.2" lengthAdjust="spacingAndGlyphs">RSI1:82.84</text>
<text x="216.4" y="346" fill="#6cbf94" font-size="12" font-weight="normal" text-anchor="start" textLength="59.6" lengthAdjust="spacingAndGlyphs">RSI2:82.84</text>
<text x="284.6" y="346" fill="#5ab0d8" font-size="12" font-weight="normal" text-anchor="start" textLength="59.1" lengthAdjust="spacingAndGlyphs">RSI3:82.84</text>
<text x="353.3" y="346" fill="#c0c0c0" font-size="12" font-weight="normal" text-anchor="start" textLength="52.3" lengthAdjust="spacingAndGlyphs">L20:20.00</text>
<text x="414.4" y="346" fill="#c0c0c0" font-size="12" font-weight="normal" text-anchor="start" textLength="53.6" lengthAdjust="spacingAndGlyphs">L30:30.00</text>
<text x="476.3" y="346" fill="#c0c0c0" font-size="12" font-weight="normal" text-anchor="start" textLength="53.7" lengthAdjust="spacingAndGlyphs">L50:50.00</text>
<text x="538.4" y="346" fill="#c0c0c0" font-size="12" font-weight="normal" text-anchor="start" textLength="53.3" lengthAdjust="spacingAndGlyphs">L70:70.00</text>
<text x="600.5" y="346" fill="#c0c0c0" font-size="12" font-weight="normal" text-anchor="start" textLength="53.3" lengthAdjust="spacingAndGlyphs">L80:80.00</text>
<text x="69.5" y="456" fill="#222" font-size="12" font-weight="normal" text-anchor="start" textLength="85.5" lengthAdjust="spacingAndGlyphs">MACD(26,12,9)</text>
<text x="159.4" y="456" fill="#5b92d6" font-size="12" font-weight="normal" text-anchor="start" textLength="64.8" lengthAdjust="spacingAndGlyphs">DIFF:150.05</text>
<text x="235.1" y="456" fill="#6cbf94" font-size="12" font-weight="normal" text-anchor="start" textLength="61.9" lengthAdjust="spacingAndGlyphs">DEA:112.72</text>
<text x="307.2" y="456" fill="#5ab0d8" font-size="12" font-weight="normal" text-anchor="start" textLength="69.8" lengthAdjust="spacingAndGlyphs">MACD:74.66</text>
<text x="91.5" y="550" fill="#2a2a2a" font-size="12" font-weight="bold" text-anchor="start" textLength="44" lengthAdjust="spacingAndGlyphs">2025/09</text>
<text x="223" y="550" fill="#2a2a2a" font-size="12" font-weight="bold" text-anchor="start" textLength="44" lengthAdjust="spacingAndGlyphs">2025/10</text>
<text x="361.5" y="550" fill="#2a2a2a" font-size="12" font-weight="bold" text-anchor="start" textLength="44" lengthAdjust="spacingAndGlyphs">2025/11</text>
<text x="481.8" y="550" fill="#2a2a2a" font-size="12" font-weight="bold" text-anchor="start" textLength="44" lengthAdjust="spacingAndGlyphs">2025/12</text>
<text x="562.6" y="549.8" fill="#e4a25e" font-size="12" font-weight="normal" text-anchor="start" textLength="63.4" lengthAdjust="spacingAndGlyphs">2025/12/19</text>
<text x="631.5" y="549.8" fill="#e28f3c" font-size="12" font-weight="500" text-anchor="start" textLength="36.5" lengthAdjust="spacingAndGlyphs">星期五</text>
<text x="11.5" y="552.6" fill="#e8802c" font-size="12.5" font-weight="bold" text-anchor="start" textLength="24.8" lengthAdjust="spacingAndGlyphs">日线</text>
<path d="M41.8 551.4 L49.8 551.4 L45.8 544 Z" fill="#f07a2a"/>
<rect x="0" y="556" width="36" height="3" fill="#f07a22"/>
<text x="673" y="532" font-family="Liberation Sans, sans-serif" font-weight="bold" font-size="40" fill="#ffffff" fill-opacity="0.55" stroke="#f0f0f0" stroke-width="1" textLength="178" lengthAdjust="spacingAndGlyphs">FastBull</text>
<g font-family="Liberation Sans, sans-serif" font-size="31" fill="#efefef" stroke="#b9b9b9" stroke-width="0.7" lengthAdjust="spacingAndGlyphs">
<text x="751.5" y="534.8" textLength="15.5" lengthAdjust="spacingAndGlyphs">F</text><text x="771" y="534.8" textLength="18.5" lengthAdjust="spacingAndGlyphs">X</text><text x="794.5" y="534.8" textLength="15.5" lengthAdjust="spacingAndGlyphs">6</text><text x="812" y="534.8" textLength="14" lengthAdjust="spacingAndGlyphs">7</text><text x="832.5" y="534.8" textLength="15.5" lengthAdjust="spacingAndGlyphs">8</text>
</g>
</svg>
</body></html>
